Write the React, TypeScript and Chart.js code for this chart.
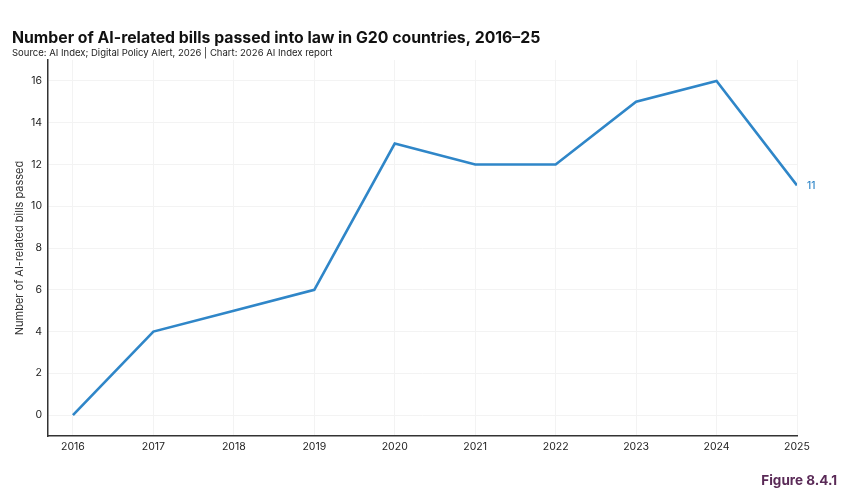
import React, { useEffect, useRef } from "react";
import { Chart, registerables } from "chart.js";

Chart.register(...registerables);

const years = [2016, 2017, 2018, 2019, 2020, 2021, 2022, 2023, 2024, 2025];
const billsPassed = [0, 4, 5, 6, 13, 12, 12, 15, 16, 11];
const yTicks = [0, 2, 4, 6, 8, 10, 12, 14, 16];

const titleText = "Number of AI-related bills passed into law in G20 countries, 2016–25";
const subtitleText = "Source: AI Index; Digital Policy Alert, 2026 | Chart: 2026 AI Index report";
const yAxisTitle = "Number of AI-related bills passed";
const figureLabel = "Figure 8.4.1";

const FONT = "Inter, 'Open Sans', sans-serif";
const LINE_COLOR = "#2f86c8";

const annotations = {
  id: "annotations",
  afterDraw(chart: any) {
    const { ctx, chartArea, scales } = chart;
    ctx.save();
    // heading
    ctx.fillStyle = "#111";
    ctx.textBaseline = "alphabetic";
    ctx.textAlign = "left";
    ctx.font = `700 15.8px ${FONT}`;
    ctx.fillText(titleText, 12, 43);
    ctx.font = `400 9.5px ${FONT}`;
    ctx.fillStyle = "#222";
    ctx.fillText(subtitleText, 12, 56);

    // y-axis title
    ctx.save();
    ctx.translate(20, (chartArea.top + chartArea.bottom) / 2);
    ctx.rotate(-Math.PI / 2);
    ctx.textAlign = "center";
    ctx.textBaseline = "middle";
    ctx.font = `400 11px ${FONT}`;
    ctx.fillStyle = "#333";
    ctx.fillText(yAxisTitle, 0, 0);
    ctx.restore();

    // end value label
    const last = billsPassed.length - 1;
    const x = scales.x.getPixelForValue(years[last]);
    const y = scales.y.getPixelForValue(billsPassed[last]);
    ctx.font = `500 10px ${FONT}`;
    ctx.fillStyle = LINE_COLOR;
    ctx.textAlign = "left";
    ctx.textBaseline = "middle";
    ctx.fillText(String(billsPassed[last]), x + 10, y + 1);

    // figure number
    ctx.font = `700 13.5px ${FONT}`;
    ctx.fillStyle = "#5a2a57";
    ctx.textAlign = "right";
    ctx.textBaseline = "middle";
    ctx.fillText(figureLabel, 837, 481);
    ctx.restore();
  },
};

export default function App() {
  const ref = useRef<HTMLCanvasElement | null>(null);

  useEffect(() => {
    if (!ref.current) return;
    const chart = new Chart(ref.current, {
      type: "line",
      data: {
        datasets: [
          {
            data: years.map((yr, i) => ({ x: yr, y: billsPassed[i] })),
            borderColor: LINE_COLOR,
            borderWidth: 2.6,
            pointRadius: 0,
            tension: 0,
            fill: false,
          },
        ],
      },
      options: {
        animation: false,
        responsive: false,
        layout: { padding: { left: 0, right: 53, top: 60, bottom: 0 } },
        plugins: {
          legend: { display: false },
          tooltip: { enabled: false },
          title: { display: false },
        },
        scales: {
          x: {
            type: "linear",
            min: 2015.69,
            max: 2025,
            afterBuildTicks: (scale: any) => {
              scale.ticks = years.map((v) => ({ value: v }));
            },
            afterFit: (scale: any) => {
              scale.height = 65;
            },
            grid: { color: "#f3f3f3", lineWidth: 1, drawTicks: false },
            border: { color: "#333", width: 1.5 },
            ticks: {
              padding: 5,
              color: "#222",
              font: { family: FONT, size: 10.5 },
              callback: (v: any) => String(v),
              maxRotation: 0,
              autoSkip: false,
            },
          },
          y: {
            min: -1,
            max: 17,
            afterBuildTicks: (scale: any) => {
              scale.ticks = yTicks.map((v) => ({ value: v }));
            },
            afterFit: (scale: any) => {
              scale.width = 48;
            },
            grid: { color: "#f3f3f3", lineWidth: 1, drawTicks: false },
            border: { color: "#333", width: 1.5 },
            ticks: {
              padding: 6,
              color: "#222",
              font: { family: FONT, size: 10.5 },
            },
          },
        },
      },
      plugins: [annotations],
    });
    return () => chart.destroy();
  }, []);

  return (
    <div style={{ position: "fixed", left: 0, top: 0, width: 850, height: 501, background: "#fff" }}>
      <canvas ref={ref} width={850} height={501} style={{ width: 850, height: 501 }} />
    </div>
  );
}
